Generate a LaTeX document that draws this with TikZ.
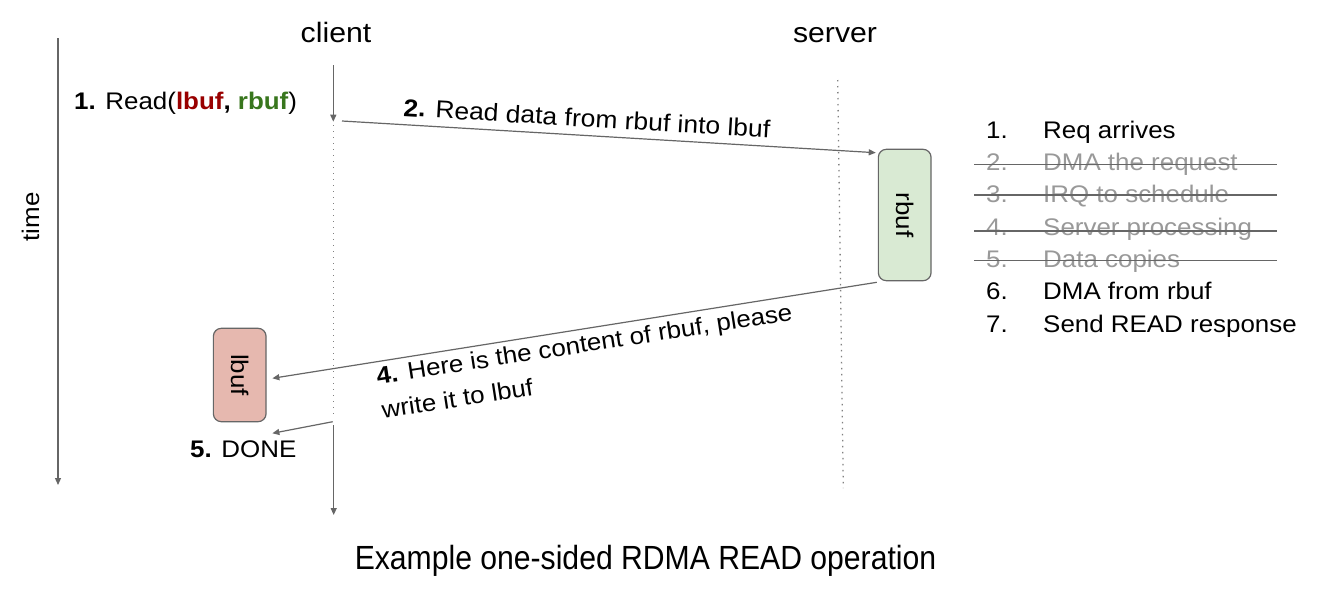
\documentclass[tikz,border=0pt]{standalone}
\usepackage{fontspec}
\setmainfont{Liberation Sans}[FakeStretch=1.08]
\newfontfamily\titlefont{Liberation Sans}[FakeStretch=0.9]
\usetikzlibrary{arrows.meta,calc}
\definecolor{linegray}{HTML}{666666}
\definecolor{dotgray}{HTML}{808080}
\definecolor{strikegray}{HTML}{999999}
\definecolor{rbuffill}{HTML}{D9EAD3}
\definecolor{lbuffill}{HTML}{E6B8AF}
\definecolor{lbufred}{HTML}{990000}
\definecolor{rbufgreen}{HTML}{38761D}
\begin{document}
\begin{tikzpicture}[x=1pt,y=-1pt,
  conn/.style={draw=linegray, line width=1.2pt, -{Triangle[length=7pt,width=6pt]}},
  lifeline/.style={draw=dotgray, line width=1.3pt, dash pattern=on 1.3pt off 4.7pt},
  buf/.style={draw=linegray, line width=1.2pt, rounded corners=8pt, inner sep=0pt,
              minimum width=52.7pt, font=\fontsize{24}{28}\selectfont},
  lbl/.style={inner sep=0pt, font=\fontsize{24}{34.5}\selectfont},
  head/.style={inner sep=0pt, font=\fontsize{28}{32}\selectfont},
  item/.style={inner sep=0pt, anchor=base west, font=\fontsize{24}{30}\selectfont},
  struck/.style={item, text=strikegray},
  strike/.style={draw=linegray, line width=1.2pt}
]
\useasboundingbox[fill=white] (0,0) rectangle (1332,590);

% headers
\node[head, anchor=base] (client) at (336,42) {client};
\node[head, anchor=base] (server) at (835,42) {server};
\node[lbl, anchor=base, rotate=90] (time) at (39,217) {time};

% time axis
\coordinate (t-top) at (58,38);
\coordinate (t-bot) at (58,485);
\draw[conn] (t-top) -- (t-bot);

% client lifeline
\coordinate (c-top) at (333.3,65);
\coordinate (c-a) at (333.3,121.7);
\coordinate (c-d1) at (333.3,125);
\coordinate (c-d2) at (333.3,418);
\coordinate (c-s) at (333.7,425);
\coordinate (c-bot) at (333.7,515);
\draw[conn] (c-top) -- (c-a);
\draw[lifeline] (c-d1) -- (c-d2);
\draw[conn] (c-s) -- (c-bot);

% server lifeline
\coordinate (s-top) at (837.7,80);
\coordinate (s-bot) at (843.3,488);
\draw[lifeline] (s-top) -- (s-bot);

% buffers
\node[buf, fill=rbuffill, minimum height=131.4pt] (rbuf) at (904.7,215) {\rotatebox{-90}{rbuf}};
\node[buf, fill=lbuffill, minimum height=93.4pt] (lbuf) at (239.7,375) {\rotatebox{-90}{lbuf}};

% step 1
\node[lbl, anchor=base west] (s1) at (74,109)
  {\textbf{1.} Read(\textcolor{lbufred}{\textbf{lbuf}}\textbf{,} \textcolor{rbufgreen}{\textbf{rbuf}})};

% step 2
\coordinate (a2s) at (342,121);
\draw[conn] (a2s) -- ($(rbuf.north west)+(-2,4)$);
\node[lbl, anchor=base west, rotate=-3.4, font=\fontsize{24.5}{34.5}\selectfont] (s2) at (403,116) {\textbf{2.} Read data from rbuf into lbuf};

% step 4
\draw[conn] ($(rbuf.south west)+(-1,1)$) -- ($(lbuf.east)+(5.7,3.3)$);
\node[lbl, anchor=base west, rotate=8.8, align=left] (s4) at (383,418.5)
  {\textbf{4.} Here is the content of rbuf, please\\write it to lbuf};

% step 5
\coordinate (a5s) at (332.7,421.7);
\draw[conn] (a5s) -- ($(lbuf.south east)+(5.7,11)$);
\node[lbl, anchor=base west] (s5) at (190,457) {\textbf{5.} DONE};

% list
\node[item] (n1) at (986,138.3) {1.};  \node[item] (i1) at (1043,138.3) {Req arrives};
\node[struck] (n2) at (986,170.6) {2.}; \node[struck] (i2) at (1043,170.6) {DMA the request};
\node[struck] (n3) at (986,202.9) {3.}; \node[struck] (i3) at (1043,202.9) {IRQ to schedule};
\node[struck] (n4) at (986,235.2) {4.}; \node[struck] (i4) at (1043,235.2) {Server processing};
\node[struck] (n5) at (986,267.5) {5.}; \node[struck] (i5) at (1043,267.5) {Data copies};
\node[item] (n6) at (986,299.8) {6.};  \node[item] (i6) at (1043,299.8) {DMA from rbuf};
\node[item] (n7) at (986,332.1) {7.};  \node[item] (i7) at (1043,332.1) {Send READ response};

\draw[strike] (974,164.3) -- (1277,164.3);
\draw[strike] (974,195) -- (1277,195);
\draw[strike] (974,231) -- (1277,231);
\draw[strike] (974,260.7) -- (1277,260.7);

% title
\node[inner sep=0pt, anchor=base, font=\titlefont\fontsize{33.5}{38}\selectfont] (title) at (645.5,569.3)
  {Example one-sided RDMA READ operation};
\end{tikzpicture}
\end{document}
